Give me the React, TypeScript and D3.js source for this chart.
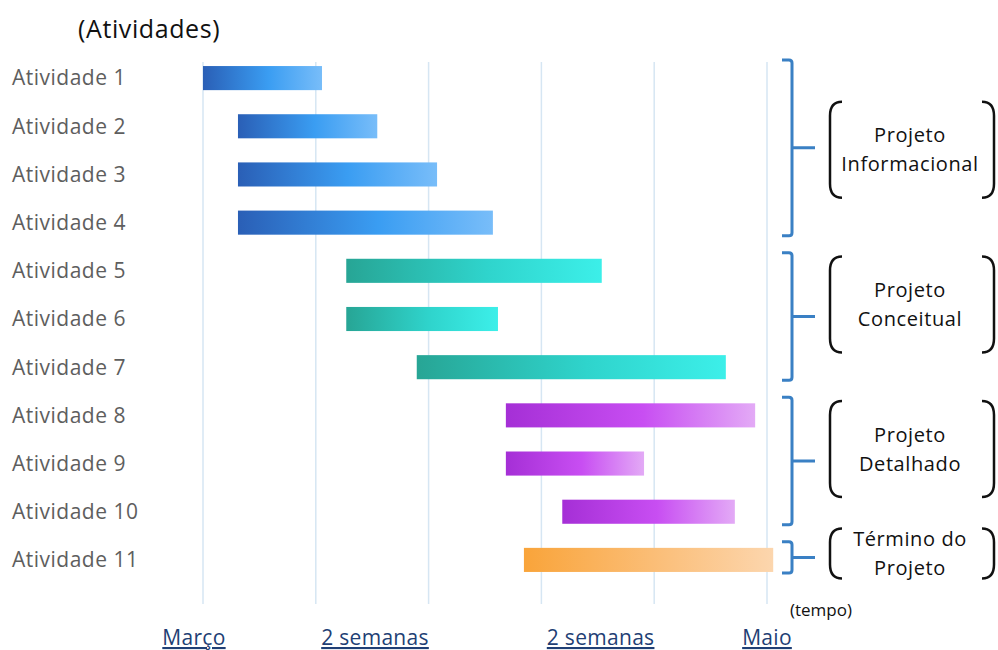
import React from 'react';
import * as d3 from 'd3';

// activities and their start / end (in weeks from the start of March)
const activities = [
  'Atividade 1', 'Atividade 2', 'Atividade 3', 'Atividade 4', 'Atividade 5', 'Atividade 6',
  'Atividade 7', 'Atividade 8', 'Atividade 9', 'Atividade 10', 'Atividade 11',
];
const starts = [0, 0.62, 0.62, 0.62, 2.54, 2.54, 3.79, 5.37, 5.37, 6.37, 5.69];
const ends = [2.11, 3.09, 4.15, 5.14, 7.07, 5.23, 9.27, 9.79, 7.82, 9.43, 10.11];
const phaseOf = [0, 0, 0, 0, 1, 1, 1, 2, 2, 2, 3];

const phaseNames = [
  ['Projeto', 'Informacional'],
  ['Projeto', 'Conceitual'],
  ['Projeto', 'Detalhado'],
  ['Término do', 'Projeto'],
];
const phaseFirst = [0, 4, 7, 10];
const phaseLast = [3, 6, 9, 10];
const phaseColors = [
  ['#2a5fb6', '#3a9df2', '#78bdf9'],
  ['#27a595', '#2fd4cc', '#3cefe9'],
  ['#a52fd6', '#c84ef2', '#e3aaf6'],
  ['#f9a43a', '#fbbf7a', '#fcd6ae'],
];

const gridWeeks = [0, 2, 4, 6, 8, 10];
const tickLabels = ['Março', '2 semanas', '2 semanas', 'Maio'];
const tickWeeks = [-0.16, 3.05, 7.05, 10];

const W = 998;
const H = 650;

const App = () => {
  const x = d3.scaleLinear().domain([0, 10]).range([203, 767]);
  const y = d3.scaleBand<string>().domain(activities).range([54, 584]).paddingInner(0.5).paddingOuter(0.25);
  const bh = y.bandwidth();
  const font = "'Open Sans', sans-serif";

  return (
    <div style={{ position: 'absolute', left: 0, top: 0 }}>
      <svg width={W} height={H} style={{ display: 'block', background: '#fff' }}>
        <defs>
          {phaseColors.map((c, i) => (
            <linearGradient key={i} id={`grad${i}`} x1="0" x2="1" y1="0" y2="0">
              <stop offset="0%" stopColor={c[0]} />
              <stop offset="55%" stopColor={c[1]} />
              <stop offset="100%" stopColor={c[2]} />
            </linearGradient>
          ))}
        </defs>

        <text x={78} y={38} fontFamily={font} fontSize={25} letterSpacing={0.6} fill="#111">(Atividades)</text>

        {gridWeeks.map((w) => (
          <line key={w} x1={x(w)} x2={x(w)} y1={62} y2={604} stroke="#d6e6f3" strokeWidth={1.5} />
        ))}

        {activities.map((a, i) => (
          <g key={a}>
            <text x={12} y={(y(a) as number) + bh / 2} dy="0.35em" fontFamily={font} fontSize={21} letterSpacing={0.5} fill="#5e5e5e">{a}</text>
            <rect
              x={x(starts[i])}
              y={y(a)}
              width={x(ends[i]) - x(starts[i])}
              height={bh}
              fill={`url(#grad${phaseOf[i]})`}
            />
          </g>
        ))}

        {phaseNames.map((names, p) => {
          const top = (y(activities[phaseFirst[p]]) as number) - 6;
          const bot = (y(activities[phaseLast[p]]) as number) + bh + 1;
          const mid = (top + bot) / 2;
          const bx = 792;
          const half = phaseFirst[p] === phaseLast[p] ? 25 : 48;
          const cy = mid - (p === 0 ? -2 : p === 3 ? 4 : 12);
          const lx = 830;
          const rx = 994;
          const brace = `M${bx - 10},${top} L${bx - 3},${top} Q${bx},${top} ${bx},${top + 3} L${bx},${bot - 3} Q${bx},${bot} ${bx - 3},${bot} L${bx - 10},${bot} M${bx},${mid} L${bx + 23},${mid}`;
          const lp = `M${lx + 12},${cy - half} Q${lx},${cy - half} ${lx},${cy - half + 14} L${lx},${cy + half - 14} Q${lx},${cy + half} ${lx + 12},${cy + half}`;
          const rp = `M${rx - 12},${cy - half} Q${rx},${cy - half} ${rx},${cy - half + 14} L${rx},${cy + half - 14} Q${rx},${cy + half} ${rx - 12},${cy + half}`;
          return (
            <g key={p}>
              <path d={brace} fill="none" stroke="#3a80c4" strokeWidth={3} />
              <path d={lp} fill="none" stroke="#111" strokeWidth={2.5} />
              <path d={rp} fill="none" stroke="#111" strokeWidth={2.5} />
              {names.map((n, k) => (
                <text key={k} x={(lx + rx) / 2 - 2} y={cy + (k - 0.5) * 29} dy="0.35em" textAnchor="middle" fontFamily={font} fontSize={20} letterSpacing={0.6} fill="#111">{n}</text>
              ))}
            </g>
          );
        })}

        <text x={790} y={616} fontFamily={font} fontSize={17} fontWeight={500} fill="#111">(tempo)</text>

        {tickLabels.map((t, i) => (
          <text key={i} x={x(tickWeeks[i])} y={645} textAnchor="middle" fontFamily={font} fontSize={21} letterSpacing={0.3} fill="#1f3f75" textDecoration="underline">{t}</text>
        ))}
      </svg>
    </div>
  );
};

export default App;
